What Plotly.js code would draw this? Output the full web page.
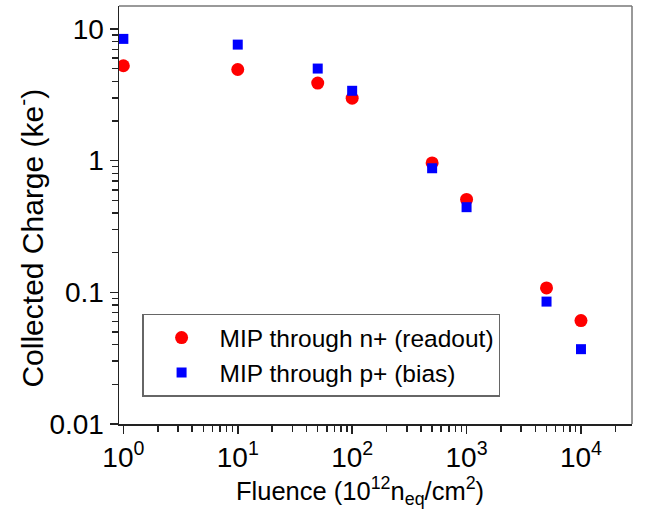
<!DOCTYPE html>
<html>
<head>
<meta charset="utf-8">
<script src="https://cdn.plot.ly/plotly-3.0.1.min.js"></script>
<style>html,body{margin:0;padding:0;background:#fff;}#chart{width:646px;height:520px;}</style>
</head>
<body>
<div id="chart"></div>
<script>
const fluence = [1, 10, 50, 100, 500, 1000, 5000, 10000];
const chargeNplus = [5.25, 4.92, 3.88, 2.98, 0.96, 0.507, 0.108, 0.061];
const chargePplus = [8.4, 7.6, 5.0, 3.39, 0.875, 0.443, 0.085, 0.037];
const seriesNames = ["MIP through n+ (readout)", "MIP through p+ (bias)"];
const xTickVals = [1, 10, 100, 1000, 10000];
const xTickText = ["10<sup>0</sup>", "10<sup>1</sup>", "10<sup>2</sup>", "10<sup>3</sup>", "10<sup>4</sup>"];
const yTickVals = [0.01, 0.1, 1, 10];
const yTickText = ["0.01", "0.1", "1", "10"];
const xTitle = "Fluence (10<sup>12</sup>n<sub>eq</sub>/cm<sup>2</sup>)";
const yTitle = "Collected Charge (ke<sup>-</sup>)";

const FONT = "Arial, 'Liberation Sans', sans-serif";

const data = [
  {x: fluence, y: chargeNplus, name: seriesNames[0], type: "scatter", mode: "markers",
   marker: {symbol: "circle", size: 13, color: "#ff0000"}},
  {x: fluence, y: chargePplus, name: seriesNames[1], type: "scatter", mode: "markers",
   marker: {symbol: "square", size: 10, color: "#0000ff"}}
];

const axisCommon = {
  type: "log", showgrid: false, zeroline: false,
  showline: true, linecolor: "#222", linewidth: 1.5, mirror: false,
  ticks: "outside", ticklen: 8, tickwidth: 1.5, tickcolor: "#222",
  tickfont: {family: FONT, size: 28, color: "#000"},
  minor: {ticks: "outside", ticklen: 6, tickwidth: 1.5, tickcolor: "#222", tickmode: "linear", dtick: "D1"}
};

const layout = {
  width: 646, height: 520,
  margin: {l: 119, r: 14, t: 6, b: 96},
  paper_bgcolor: "#fff", plot_bgcolor: "#fff",
  font: {family: FONT, color: "#000"},
  showlegend: true,
  legend: {
    x: 0.045, y: 0.264, xanchor: "left", yanchor: "top",
    bordercolor: "#666", borderwidth: 1.5, bgcolor: "#fff",
    font: {family: FONT, size: 24.5, color: "#000"},
    itemwidth: 66
  },
  xaxis: Object.assign({}, axisCommon, {
    range: [-0.038, 4.446],
    tickvals: xTickVals, ticktext: xTickText
  }),
  yaxis: Object.assign({}, axisCommon, {
    range: [-2, 1.174],
    tickvals: yTickVals, ticktext: yTickText
  }),
  shapes: [
    {type: "line", xref: "paper", yref: "paper", x0: 0, x1: 1, y0: 1, y1: 1, line: {color: "#777", width: 1.5}},
    {type: "line", xref: "paper", yref: "paper", x0: 1, x1: 1, y0: 0, y1: 1, line: {color: "#777", width: 1.5}}
  ],
  annotations: [
    {text: xTitle, xref: "paper", yref: "paper", x: (360 - 119) / 513, y: (423 - 490) / 417,
     xanchor: "center", yanchor: "middle", showarrow: false, font: {family: FONT, size: 25.5, color: "#000"}},
    {text: yTitle, xref: "paper", yref: "paper", x: (30 - 119) / 513, y: (423 - 238) / 417,
     xanchor: "center", yanchor: "middle", textangle: -90, showarrow: false, font: {family: FONT, size: 30, color: "#000"}}
  ]
};

Plotly.newPlot("chart", data, layout, {displayModeBar: false, staticPlot: true});
</script>
</body>
</html>
